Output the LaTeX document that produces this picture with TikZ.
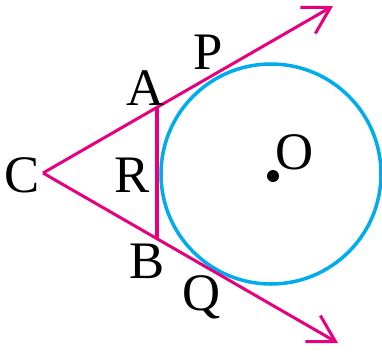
\documentclass[tikz,border=0pt]{standalone}
\usepackage{fontspec}
\setmainfont{Liberation Serif}
\usetikzlibrary{arrows.meta}
\definecolor{tanpink}{RGB}{230,0,126}
\definecolor{tanblue}{RGB}{0,172,236}
\begin{document}
\begin{tikzpicture}[x=0.02cm, y=-0.02cm, >={Straight Barb[length=0.52cm,width=0.6cm]},
  every node/.style={inner sep=0pt, font=\fontsize{30}{34}\selectfont}]
\useasboundingbox (0,0) rectangle (382,356);
\coordinate (vc) at (43,173);
\coordinate (va) at (157,107);
\coordinate (vb) at (157,238);
\coordinate (tipp) at (333,6);
\coordinate (tipq) at (338,343);
\coordinate (centre) at (271,174);
\draw[tanblue, line width=2pt] (centre) circle[radius=110];
\draw[tanpink, line width=1.7pt, ->] (vc) -- (tipp);
\draw[tanpink, line width=1.7pt, ->] (vc) -- (tipq);
\draw[tanpink, line width=2.6pt] (va) -- (vb);
\fill (273,176) circle[radius=6];
\node (c) at (22,175) {C};
\node (a) at (146,88) {A};
\node (p) at (208,52) {P};
\node (r) at (132,175) {R};
\node (b) at (147,261) {B};
\node (q) at (202,297) {Q};
\node (o) at (295,152) {O};
\end{tikzpicture}
\end{document}
